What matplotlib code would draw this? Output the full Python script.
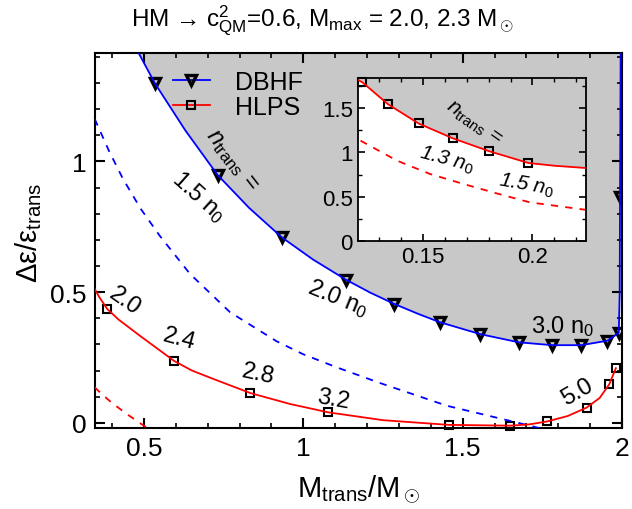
import matplotlib
matplotlib.use('Agg')
import matplotlib.pyplot as plt
from matplotlib.ticker import MultipleLocator

plt.rcParams['font.family'] = ['Liberation Sans', 'DejaVu Sans']
plt.rcParams['mathtext.fontset'] = 'custom'
plt.rcParams['mathtext.rm'] = 'Liberation Sans'
plt.rcParams['mathtext.it'] = 'Liberation Sans:italic'
plt.rcParams['mathtext.bf'] = 'Liberation Sans:bold'

# DBHF: boundary curve and marked points
dbhf_x = [0.483, 0.534, 0.63, 0.731, 0.83, 0.932, 1.03, 1.133, 1.21, 1.285, 1.36, 1.428,
          1.556, 1.676, 1.781, 1.872, 1.954, 1.990, 1.993, 1.994, 1.996]
dbhf_y = [1.415, 1.299, 1.118, 0.948, 0.822, 0.710, 0.625, 0.548, 0.498, 0.455, 0.417, 0.385,
          0.339, 0.308, 0.297, 0.297, 0.314, 0.344, 0.50, 0.863, 1.415]
dbhf_mx = [0.534, 0.731, 0.932, 1.133, 1.285, 1.428, 1.556, 1.676, 1.781,
           1.872, 1.954, 1.990, 1.994]
dbhf_my = [1.299, 0.948, 0.710, 0.548, 0.455, 0.385, 0.339, 0.308, 0.297,
           0.297, 0.314, 0.344, 0.863]
dbhf_dash_x = [0.345, 0.39, 0.434, 0.49, 0.549, 0.644, 0.770, 0.916, 1.0, 1.105, 1.241,
               1.451, 1.660, 1.74]
dbhf_dash_y = [1.163, 1.04, 0.933, 0.818, 0.716, 0.570, 0.423, 0.312, 0.262, 0.212, 0.152,
               0.065, 0.004, -0.02]

# HLPS: curve and marked points
hlps_x = [0.345, 0.36, 0.384, 0.42, 0.487, 0.594, 0.65, 0.717, 0.833, 0.958, 1.078,
          1.25, 1.456, 1.650, 1.71, 1.765, 1.83, 1.889, 1.930, 1.960, 1.981]
hlps_y = [0.512, 0.48, 0.436, 0.395, 0.333, 0.237, 0.200, 0.168, 0.114, 0.072, 0.040,
          0.010, -0.008, -0.011, -0.006, 0.005, 0.026, 0.058, 0.095, 0.147, 0.209]
hlps_mx = [0.384, 0.594, 0.833, 1.078, 1.456, 1.650, 1.765, 1.889, 1.960, 1.981]
hlps_my = [0.436, 0.237, 0.114, 0.040, -0.008, -0.011, 0.005, 0.058, 0.147, 0.209]
hlps_dash_x = [0.345, 0.361, 0.40, 0.45, 0.51]
hlps_dash_y = [0.136, 0.117, 0.075, 0.03, -0.02]

# inset (HLPS at low transition mass)
ins_x = [0.1205, 0.1223, 0.1341, 0.148, 0.1636, 0.1803, 0.1982, 0.21, 0.2245]
ins_y = [1.82, 1.796, 1.546, 1.329, 1.161, 1.014, 0.881, 0.85, 0.824]
ins_mx = [0.1223, 0.1341, 0.148, 0.1636, 0.1803, 0.1982]
ins_my = [1.796, 1.546, 1.329, 1.161, 1.014, 0.881]
ins_dash_x = [0.1215, 0.1382, 0.1533, 0.1685, 0.1836, 0.1988, 0.2242]
ins_dash_y = [1.134, 0.907, 0.756, 0.643, 0.537, 0.435, 0.351]

grey = '#c8c8c8'
tri = dict(marker='v', ms=7.5, mfc='none', mec='k', mew=2.4)
sq = dict(marker='s', ms=6, mfc='none', mec='k', mew=1.5)

fig = plt.figure(figsize=(6.32, 5.10), dpi=100)
ax = fig.add_axes([0.1498, 0.1588, 0.8343, 0.7353])
x0, x1, y0, y1 = 0.345, 2.0, -0.02, 1.415

ax.fill_between(dbhf_x, dbhf_y, y1, color=grey, lw=0, zorder=0)
ax.plot(dbhf_x, dbhf_y, color='b', lw=1.3, zorder=3)
ax.plot(dbhf_mx, dbhf_my, ls='none', zorder=2, **tri)
ax.plot(dbhf_dash_x, dbhf_dash_y, color='b', lw=1.3, ls=(0, (4, 4)), zorder=3)
ax.plot(hlps_x, hlps_y, color='r', lw=1.3, zorder=3)
ax.plot(hlps_mx, hlps_my, ls='none', zorder=2, clip_on=False, **sq)
ax.plot(hlps_dash_x, hlps_dash_y, color='r', lw=1.3, ls=(0, (4, 4)), zorder=3)

# legend proxies
ax.plot([], [], color='b', lw=1.3, label='DBHF', **tri)
ax.plot([], [], color='r', lw=1.3, label='HLPS', **sq)
hs, ls = ax.get_legend_handles_labels()
ax.legend(hs, ls, loc='upper left', bbox_to_anchor=(0.148, 0.955), frameon=False,
          fontsize=18, handlelength=1.5, handletextpad=1.0, labelspacing=0.05,
          borderpad=0, borderaxespad=0)

ax.set_xlim(x0, x1)
ax.set_ylim(y0, y1)
ax.xaxis.set_minor_locator(MultipleLocator(0.1))
ax.yaxis.set_minor_locator(MultipleLocator(0.1))
ax.set_xticks([0.5, 1, 1.5, 2])
ax.set_xticklabels(['0.5', '1', '1.5', '2'])
ax.set_yticks([0, 0.5, 1])
ax.set_yticklabels(['0', '0.5', '1'])
ax.tick_params(which='both', direction='in', top=True, right=True, labelsize=19)
ax.tick_params(which='major', length=7, width=1.5, pad=6)
ax.tick_params(which='minor', length=3.5, width=1.2)
for s in ax.spines.values():
    s.set_linewidth(1.5)

# curve labels
tk = dict(ha='center', va='center', fontsize=17)
ax.text(0.776, 1.009, r'$n_{\rm trans}$ =', rotation=-52, **tk)
ax.text(0.672, 0.868, r'1.5 n$_0$', rotation=-42, **tk)
ax.text(1.109, 0.481, r'2.0 n$_0$', rotation=-22, **tk)
ax.text(1.813, 0.372, r'3.0 n$_0$', rotation=0, **tk)
ax.text(0.439, 0.467, '2.0', rotation=-35, **tk)
ax.text(0.609, 0.321, '2.4', rotation=-15, **tk)
ax.text(0.858, 0.187, '2.8', rotation=-12, **tk)
ax.text(1.093, 0.091, '3.2', rotation=-10, **tk)
ax.text(1.860, 0.119, '5.0', rotation=30, **tk)

# inset
ai = fig.add_axes([0.567, 0.526, 0.3603, 0.3184])
ai.set_facecolor('white')
ai.fill_between(ins_x, ins_y, 1.84, color=grey, lw=0, zorder=0)
ai.plot(ins_x, ins_y, color='r', lw=1.3, zorder=3)
ai.plot(ins_mx, ins_my, ls='none', zorder=2, clip_on=False, **sq)
ai.plot(ins_dash_x, ins_dash_y, color='r', lw=1.3, ls=(0, (4, 4)), zorder=3)
ai.set_xlim(0.1205, 0.2245)
ai.set_ylim(0, 1.84)
ai.set_xticks([0.15, 0.2])
ai.set_xticklabels(['0.15', '0.2'])
ai.set_yticks([0, 0.5, 1, 1.5])
ai.set_yticklabels(['0', '0.5', '1', '1.5'])
ai.xaxis.set_minor_locator(MultipleLocator(0.01))
ai.yaxis.set_minor_locator(MultipleLocator(0.25))
ai.tick_params(which='both', direction='in', top=True, right=True, labelsize=16)
ai.tick_params(which='major', length=5, width=1.2, pad=4)
ai.tick_params(which='minor', length=3, width=1)
for s in ai.spines.values():
    s.set_linewidth(1.3)
ti = dict(ha='center', va='center', fontsize=15, style='italic')
ai.text(0.173, 1.342, r'$n_{\rm trans}$ =', rotation=-35, **ti)
ai.text(0.1609, 0.926, r'1.3 $n_0$', rotation=-15, **ti)
ai.text(0.1973, 0.643, r'1.5 $n_0$', rotation=-10, **ti)

fig.text(0.51, 0.96, r'HM → c$^2_{\rm QM}$=0.6, M$_{\rm max}$ = 2.0, 2.3 M$_\odot$',
         ha='center', va='center', fontsize=17.5)
fig.text(0.567, 0.04, r'M$_{\rm trans}$/M$_\odot$', ha='center', va='center', fontsize=21)
fig.text(0.045, 0.543, r'Δε/ε$_{\rm trans}$', ha='center', va='center', fontsize=21,
         rotation=90)

fig.savefig('out.png', dpi=100)
